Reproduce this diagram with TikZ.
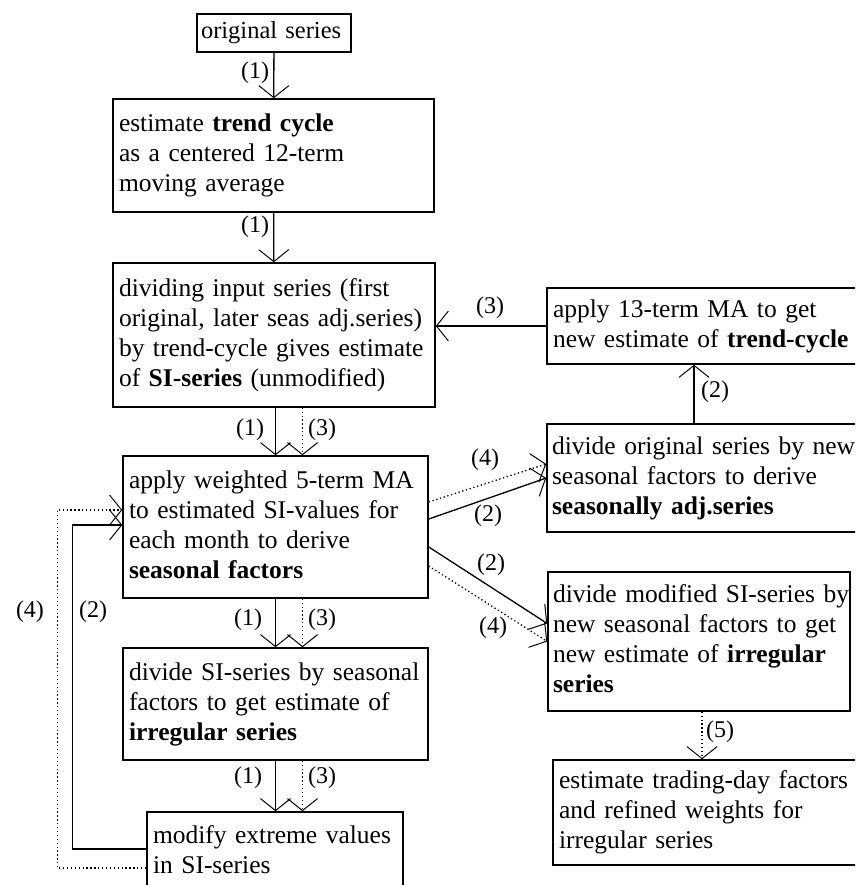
\documentclass[tikz,border=0pt]{standalone}
\usepackage{fontspec}
\setmainfont{Liberation Serif}
\usetikzlibrary{arrows.meta}

\newcommand{\boxlines}[1]{\begin{tabular}{@{}l@{}}#1\end{tabular}}

\begin{document}
\begin{tikzpicture}[x=1pt, y=-1pt]
      \tikzstyle{block} = [draw, rectangle, line width=1.5pt, inner xsep=6pt,
                           inner ysep=0pt, align=left,
                           font=\fontsize{25.5}{30}\selectfont]
      \tikzstyle{flow} = [line width=1.3pt, -{Straight Barb[length=12pt, width=30pt, line width=1pt]}]
      \tikzstyle{flowdot} = [flow, dash pattern=on 1.3pt off 2.6pt]
      \tikzstyle{num} = [inner sep=0pt, font=\fontsize{24}{26}\selectfont]

      \clip (0,0) rectangle (855,885);

      % left column
      \node[block, inner xsep=4pt, text width=146pt, minimum height=38pt,
            font=\fontsize{24.5}{30}\selectfont] (orig) at (274,33)
        {\boxlines{original series}};
      \node[block, text width=309pt, minimum height=113pt] (trend) at (273.5,155.5)
        {\boxlines{estimate \textbf{trend cycle}\\as a centered 12-term\\moving average}};
      \node[block, text width=310pt, minimum height=144pt] (sidiv) at (274,335)
        {\boxlines{dividing input series (first\\original, later seas adj.series)\\by trend-cycle gives estimate\\of \textbf{SI-series} (unmodified)}};
      \node[block, text width=293pt, minimum height=142pt] (seas) at (275.5,527)
        {\boxlines{apply weighted 5-term MA\\to estimated SI-values for\\each month to derive\\\textbf{seasonal factors}}};
      \node[block, text width=293pt, minimum height=112pt] (irr) at (275.5,704)
        {\boxlines{divide SI-series by seasonal\\factors to get estimate of\\\textbf{irregular series}}};
      \node[block, text width=244pt, minimum height=80pt] (modif) at (275,852)
        {\boxlines{modify extreme values\\in SI-series}};

      % right column
      \node[block, text width=311pt, minimum height=76pt] (trendnew) at (708.5,326)
        {\boxlines{apply 13-term MA to get\\new estimate of \textbf{trend-cycle}}};
      \node[block, inner xsep=5pt, text width=313pt, minimum height=108pt] (sadj) at (708.5,478)
        {\boxlines{divide original series by new\\seasonal factors to derive\\\textbf{seasonally adj.series}}};
      \node[block, inner xsep=5pt, text width=292pt, minimum height=139pt] (irrnew) at (699,641.5)
        {\boxlines{divide modified SI-series by\\new seasonal factors to get\\new estimate of \textbf{irregular}\\\textbf{series}}};
      \node[block, text width=305pt, minimum height=105pt] (trading) at (711.5,812.5)
        {\boxlines{estimate trading-day factors\\and refined weights for\\irregular series}};

      % main flow
      \draw[flow] (orig) -- (trend);
      \draw[flow] (trend) -- (sidiv);
      \draw[flow] (seas.north |- sidiv.south) -- (seas.north);
      \draw[flowdot] ([xshift=27pt]seas.north |- sidiv.south) -- ([xshift=27pt]seas.north);
      \draw[flow] (seas) -- (irr);
      \draw[flowdot] ([xshift=27pt]seas.south) -- ([xshift=27pt]irr.north);
      \draw[flow] (irr.south) -- (irr.south |- modif.north);
      \draw[flowdot] ([xshift=27pt]irr.south) -- ([xshift=27pt]irr.south |- modif.north);

      % feedback loops
      \draw[flow] ([yshift=3pt]modif.west) -- ++(-74,0) |- ([yshift=2pt]seas.west);
      \draw[flowdot] ([yshift=-16pt]modif.west) -- ++(-89,0) |- ([yshift=17pt]seas.west);
      \draw[flowdot] ([yshift=25pt]seas.east) -- ([yshift=14pt]sadj.west);
      \draw[flow] ([yshift=8pt]seas.east) -- (sadj.west);
      \draw[flow] ([yshift=-20pt]seas.east) -- ([yshift=18pt]irrnew.west);
      \draw[flowdot] ([yshift=-39pt]seas.east) -- (irrnew.west);
      \draw[flow] ([xshift=-14.5pt]sadj.north) -- ([xshift=-14.5pt]trendnew.south);
      \draw[flow] (trendnew.west) -- (trendnew.west -| sidiv.east);
      \draw[flowdot] ([xshift=3pt]irrnew.south) -- ([xshift=-9.5pt]trading.north);

      % step numbers
      \node[num] (n1) at (255,73) {(1)};
      \node[num] (n2) at (255,227) {(1)};
      \node[num] (n3) at (250,430) {(1)};
      \node[num] (n4) at (322,430) {(3)};
      \node[num] (n5) at (248,620) {(1)};
      \node[num] (n6) at (322,620) {(3)};
      \node[num] (n7) at (248,778) {(1)};
      \node[num] (n8) at (322,778) {(3)};
      \node[num] (n9) at (30,612) {(4)};
      \node[num] (n10) at (93,612) {(2)};
      \node[num] (n11) at (490,308) {(3)};
      \node[num] (n12) at (715,392) {(2)};
      \node[num] (n13) at (485,460) {(4)};
      \node[num] (n14) at (488,516) {(2)};
      \node[num] (n15) at (491,565) {(2)};
      \node[num] (n16) at (493,628) {(4)};
      \node[num] (n17) at (720,732) {(5)};
    \end{tikzpicture}
\end{document}
